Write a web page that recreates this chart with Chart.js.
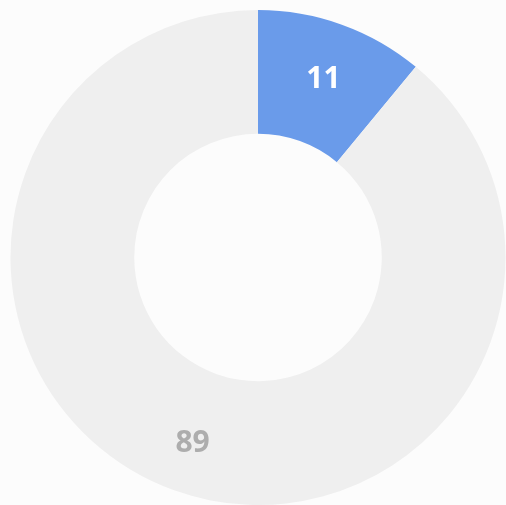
<!DOCTYPE html>
<html>
<head>
<meta charset="utf-8">
<script src="https://cdn.jsdelivr.net/npm/chart.js@4"></script>
<style>
  html, body { margin: 0; padding: 0; background: #fcfcfc; }
  canvas { display: block; }
</style>
</head>
<body>
<canvas id="c" width="506" height="505"></canvas>
<script>
const labels = ["A", "B"];
const values = [11, 89];
const colors = ["#6a9bea", "#efefef"];
const labelColors = ["#ffffff", "#adadad"];

// 각 조각 안쪽에 값 표시
const sliceLabels = {
  id: "sliceLabels",
  afterDatasetsDraw(chart) {
    const { ctx } = chart;
    const meta = chart.getDatasetMeta(0);
    ctx.save();
    ctx.font = "bold 30px 'Open Sans'";
    ctx.textAlign = "center";
    ctx.textBaseline = "middle";
    meta.data.forEach((arc, i) => {
      const p = arc.getProps(["x", "y", "startAngle", "endAngle", "innerRadius", "outerRadius"], true);
      const a = (p.startAngle + p.endAngle) / 2;
      const r = p.innerRadius + 0.56 * (p.outerRadius - p.innerRadius);
      ctx.fillStyle = labelColors[i];
      // 폰트 중심 보정
      ctx.fillText(String(values[i]), p.x + r * Math.cos(a), p.y + r * Math.sin(a) + 4);
    });
    ctx.restore();
  },
};

new Chart(document.getElementById("c"), {
  type: "doughnut",
  data: {
    labels,
    datasets: [{ data: values, backgroundColor: colors, borderWidth: 0 }],
  },
  options: {
    responsive: false, animation: false, cutout: "50%",
    layout: { padding: { left: 10, top: 10, right: 0, bottom: 0 } },
    plugins: { legend: { display: false }, tooltip: { enabled: false } },
  },
  plugins: [sliceLabels],
});
</script>
</body>
</html>
